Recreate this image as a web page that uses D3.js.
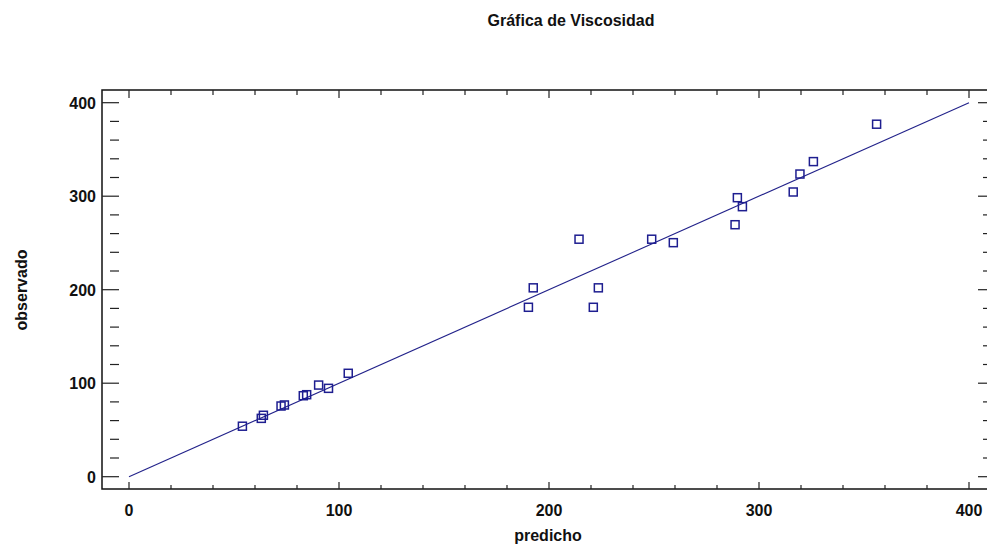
<!DOCTYPE html>
<html>
<head>
<meta charset="utf-8">
<script src="https://cdn.jsdelivr.net/npm/d3@7"></script>
<style>
  body { margin: 0; background: #fff; }
  text { font-family: "Liberation Sans", Arial, sans-serif; font-weight: bold; fill: #111; }
</style>
</head>
<body>
<div id="chart"></div>
<script>
// valores
var predicho = [54, 63, 64, 72.4, 74, 83, 84.6, 90.3, 95, 104.4,
    190.2, 192.5, 214.3, 221.1, 223.5, 248.9, 259.2, 288.6, 289.7, 292.1,
    316.3, 319.5, 325.9, 356];
var observado = [54, 62.4, 65.7, 75.6, 76.7, 86.6, 87.7, 98, 94.5, 110.6,
    181.2, 202, 254, 181.2, 202, 254, 250.3, 269.5, 298.4, 288.8,
    304.5, 323.7, 337, 377];
var ticksMayor = [0, 100, 200, 300, 400];
var ajuste = [0, 400];

chart();

function chart() {
    var width = 987, height = 549;
    var svg = d3.select("#chart").append("svg")
        .attr("width", width)
        .attr("height", height);

    // bordes del recuadro
    var left = 102, right = 995, top = 90, bottom = 489;

    var x = d3.scaleLinear().domain([0, 400]).range([129, 969]);
    var y = d3.scaleLinear().domain([0, 400]).range([476.7, 102.7]);

    // marcas menores cada 20
    var minor = d3.range(20, 400, 20).filter(function(d) { return d % 100 != 0; });
    var xMinor = minor.concat([420]);

    // titulo
    svg.append("text")
        .attr("x", 571).attr("y", 26)
        .attr("text-anchor", "middle")
        .style("font-size", "16px")
        .text("Gráfica de Viscosidad");

    // recuadro
    svg.append("rect")
        .attr("x", left).attr("y", top)
        .attr("width", right - left).attr("height", bottom - top)
        .attr("fill", "none")
        .attr("stroke", "#111")
        .attr("stroke-width", 1.5);

    var g = svg.append("g").attr("stroke", "#222").attr("stroke-width", 1.2);

    // marcas eje x (abajo y arriba)
    g.selectAll(".xb").data(ticksMayor).enter().append("line")
        .attr("x1", d => x(d)).attr("x2", d => x(d))
        .attr("y1", bottom).attr("y2", bottom - 7);
    g.selectAll(".xbm").data(xMinor).enter().append("line")
        .attr("x1", d => x(d)).attr("x2", d => x(d))
        .attr("y1", bottom).attr("y2", bottom - 4);
    g.selectAll(".xt").data(ticksMayor).enter().append("line")
        .attr("x1", d => x(d)).attr("x2", d => x(d))
        .attr("y1", top).attr("y2", top + 8);
    g.selectAll(".xtm").data(xMinor).enter().append("line")
        .attr("x1", d => x(d)).attr("x2", d => x(d))
        .attr("y1", top).attr("y2", top + 5);

    // marcas eje y (izquierda y derecha)
    g.selectAll(".yl").data(ticksMayor).enter().append("line")
        .attr("y1", d => y(d)).attr("y2", d => y(d))
        .attr("x1", left).attr("x2", left + 17);
    g.selectAll(".ylm").data(minor).enter().append("line")
        .attr("y1", d => y(d)).attr("y2", d => y(d))
        .attr("x1", left + 8).attr("x2", left + 17);
    g.selectAll(".yr").data(ticksMayor).enter().append("line")
        .attr("y1", d => y(d)).attr("y2", d => y(d))
        .attr("x1", right).attr("x2", right - 17);
    g.selectAll(".yrm").data(minor).enter().append("line")
        .attr("y1", d => y(d)).attr("y2", d => y(d))
        .attr("x1", right).attr("x2", right - 12);

    // etiquetas
    svg.selectAll(".xl").data(ticksMayor).enter().append("text")
        .attr("x", d => x(d)).attr("y", 516)
        .attr("text-anchor", "middle")
        .style("font-size", "16px")
        .text(d => d);
    svg.selectAll(".yll").data(ticksMayor).enter().append("text")
        .attr("x", 96).attr("y", d => y(d) + 6)
        .attr("text-anchor", "end")
        .style("font-size", "16px")
        .text(d => d);

    svg.append("text")
        .attr("x", 548).attr("y", 541)
        .attr("text-anchor", "middle")
        .style("font-size", "16px")
        .text("predicho");
    svg.append("text")
        .attr("transform", "translate(27,290) rotate(-90)")
        .attr("text-anchor", "middle")
        .style("font-size", "16px")
        .text("observado");

    // recta y = x
    svg.append("line")
        .attr("x1", x(ajuste[0])).attr("y1", y(ajuste[0]))
        .attr("x2", x(ajuste[1])).attr("y2", y(ajuste[1]))
        .attr("stroke", "#22228a")
        .attr("stroke-width", 1.1);

    // puntos
    var s = 8;
    svg.append("g").selectAll("rect")
        .data(predicho.map((d, i) => [d, observado[i]]))
        .enter().append("rect")
        .attr("x", d => x(d[0]) - s / 2)
        .attr("y", d => y(d[1]) - s / 2)
        .attr("width", s).attr("height", s)
        .attr("fill", "none")
        .attr("stroke", "#1e1e90")
        .attr("stroke-width", 1.5);
}
</script>
</body>
</html>
